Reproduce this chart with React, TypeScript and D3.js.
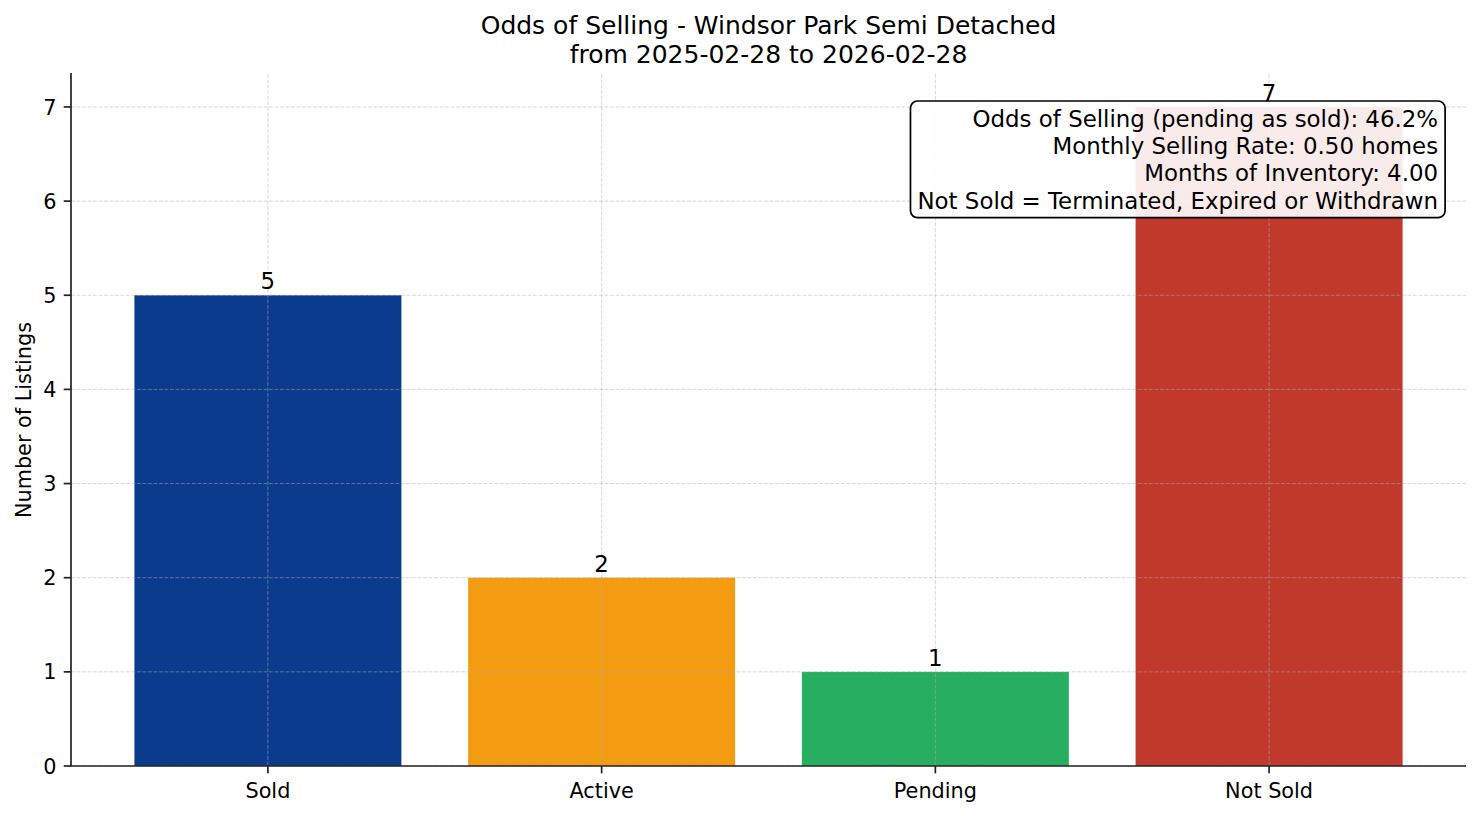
import React, { useEffect, useRef } from "react";
import * as d3 from "d3";

const categories = ["Sold", "Active", "Pending", "Not Sold"];
const counts = [5, 2, 1, 7];
const barColors = ["#0b3b8c", "#f39c12", "#27ae60", "#c0392b"];
const yTicks = [0, 1, 2, 3, 4, 5, 6, 7];
const titleLines = [
  "Odds of Selling - Windsor Park Semi Detached",
  "from 2025-02-28 to 2026-02-28",
];
const infoLines = [
  "Odds of Selling (pending as sold): 46.2%",
  "Monthly Selling Rate: 0.50 homes",
  "Months of Inventory: 4.00",
  "Not Sold = Terminated, Expired or Withdrawn",
];

const W = 1481;
const H = 816;
const FONT = "DejaVu Sans, sans-serif";

const App: React.FC = () => {
  const svgRef = useRef<SVGSVGElement>(null);

  useEffect(() => {
    if (!svgRef.current) return;
    const svg = d3.select(svgRef.current);
    svg.selectAll("*").remove();

    const left = 71;
    const right = 1466;
    const top = 74;
    const bottom = 766;

    // matplotlib-style limits: bars of width 0.8 with 5% margins
    const x = d3
      .scaleLinear()
      .domain([-0.59, categories.length - 1 + 0.59])
      .range([left, right]);
    const y = d3
      .scaleLinear()
      .domain([0, d3.max(counts)! * 1.05])
      .range([bottom, top]);
    const barW = x(0.4) - x(-0.4);

    svg.append("rect").attr("width", W).attr("height", H).attr("fill", "#fff");

    // bars
    svg
      .append("g")
      .selectAll("rect")
      .data(counts)
      .enter()
      .append("rect")
      .attr("x", (_, i) => x(i) - barW / 2)
      .attr("y", (d) => y(d))
      .attr("width", barW)
      .attr("height", (d) => y(0) - y(d))
      .attr("fill", (_, i) => barColors[i]);

    // grid (drawn above bars)
    const grid = svg
      .append("g")
      .attr("stroke", "#b0b0b0")
      .attr("stroke-opacity", 0.5)
      .attr("stroke-width", 1)
      .attr("stroke-dasharray", "3.8,1.7");
    grid
      .selectAll("line.h")
      .data(yTicks)
      .enter()
      .append("line")
      .attr("x1", left)
      .attr("x2", right)
      .attr("y1", (d) => y(d))
      .attr("y2", (d) => y(d));
    grid
      .selectAll("line.v")
      .data(categories)
      .enter()
      .append("line")
      .attr("x1", (_, i) => x(i))
      .attr("x2", (_, i) => x(i))
      .attr("y1", top)
      .attr("y2", bottom);

    // value labels
    svg
      .append("g")
      .selectAll("text")
      .data(counts)
      .enter()
      .append("text")
      .attr("x", (_, i) => x(i))
      .attr("y", (d) => y(d) - 6)
      .attr("text-anchor", "middle")
      .style("font-family", FONT)
      .style("font-size", "22.9px")
      .attr("fill", "#000")
      .text((d) => d);

    // axes
    const axisColor = "#222";
    const ax = svg.append("g");
    ax.append("line")
      .attr("x1", left)
      .attr("x2", left)
      .attr("y1", top - 1)
      .attr("y2", bottom)
      .attr("stroke", axisColor)
      .attr("stroke-width", 1.7);
    ax.append("line")
      .attr("x1", left)
      .attr("x2", right)
      .attr("y1", bottom)
      .attr("y2", bottom)
      .attr("stroke", axisColor)
      .attr("stroke-width", 1.7);

    yTicks.forEach((t) => {
      ax.append("line")
        .attr("x1", left - 7.3)
        .attr("x2", left)
        .attr("y1", y(t))
        .attr("y2", y(t))
        .attr("stroke", axisColor)
        .attr("stroke-width", 1.7);
      ax.append("text")
        .attr("x", left - 14.6)
        .attr("y", y(t) + 7.6)
        .attr("text-anchor", "end")
        .style("font-family", FONT)
        .style("font-size", "20.8px")
        .attr("fill", "#000")
        .text(t);
    });
    categories.forEach((c, i) => {
      ax.append("line")
        .attr("x1", x(i))
        .attr("x2", x(i))
        .attr("y1", bottom)
        .attr("y2", bottom + 7.3)
        .attr("stroke", axisColor)
        .attr("stroke-width", 1.7);
      ax.append("text")
        .attr("x", x(i))
        .attr("y", bottom + 31.5)
        .attr("text-anchor", "middle")
        .style("font-family", FONT)
        .style("font-size", "20.8px")
        .attr("fill", "#000")
        .text(c);
    });

    // y label
    svg
      .append("text")
      .attr("transform", `translate(31,${(top + bottom) / 2}) rotate(-90)`)
      .attr("text-anchor", "middle")
      .style("font-family", FONT)
      .style("font-size", "20.8px")
      .attr("fill", "#000")
      .text("Number of Listings");

    // title
    titleLines.forEach((line, i) => {
      svg
        .append("text")
        .attr("x", (left + right) / 2)
        .attr("y", 34 + i * 28.5)
        .attr("text-anchor", "middle")
        .style("font-family", FONT)
        .style("font-size", "25px")
        .attr("fill", "#000")
        .text(line);
    });

    // info box
    const boxG = svg.append("g");
    const boxRect = boxG.append("rect");
    const textRight = left + 0.98 * (right - left);
    const firstBase = 127;
    const lineGap = 27.2;
    const txt = boxG.append("g");
    infoLines.forEach((line, i) => {
      txt
        .append("text")
        .attr("x", textRight)
        .attr("y", firstBase + i * lineGap)
        .attr("text-anchor", "end")
        .style("font-family", FONT)
        .style("font-size", "22.9px")
        .attr("fill", "#000")
        .text(line);
    });
    const bb = (txt.node() as SVGGElement).getBBox();
    const pad = 7;
    const boxTop = firstBase - 26;
    const boxBottom = firstBase + (infoLines.length - 1) * lineGap + 9;
    boxRect
      .attr("x", bb.x - pad)
      .attr("y", boxTop)
      .attr("width", bb.width + 2 * pad)
      .attr("height", boxBottom - boxTop)
      .attr("rx", 7)
      .attr("ry", 7)
      .attr("fill", "#fff")
      .attr("fill-opacity", 0.9)
      .attr("stroke", "#000")
      .attr("stroke-width", 1.7);
  }, []);

  return (
    <svg
      ref={svgRef}
      width={W}
      height={H}
      style={{ position: "absolute", left: 0, top: 0 }}
    />
  );
};

export default App;
